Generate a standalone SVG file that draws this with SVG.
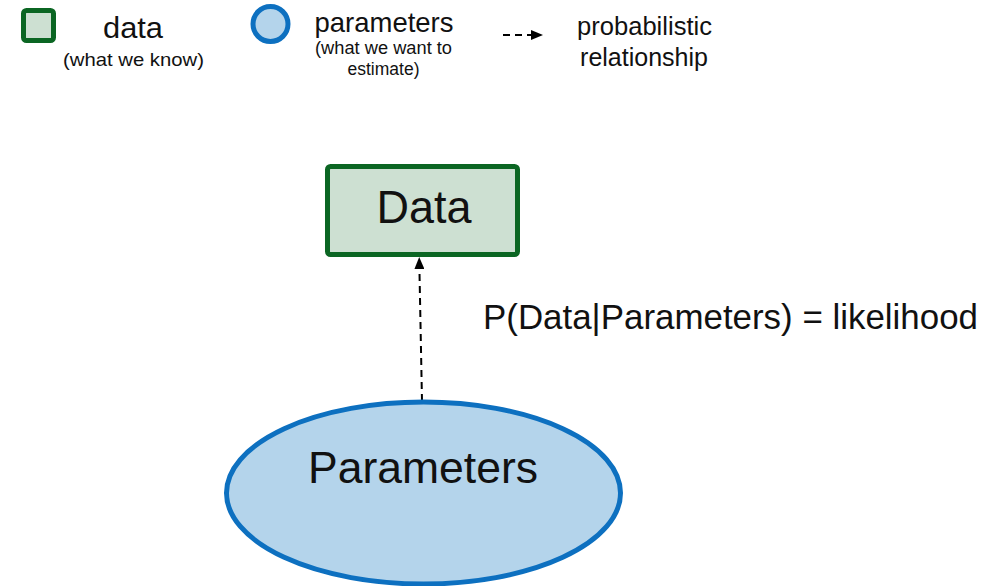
<svg xmlns="http://www.w3.org/2000/svg" width="1001" height="586" viewBox="0 0 1001 586">
  <defs>
    <style>
      .txt { font-family: "Liberation Sans", Arial, sans-serif; fill: #111; }
      .data { fill: #cde0d2; stroke: #0b6623; stroke-width: 5; }
      .param { fill: #b4d4eb; stroke: #0d70c0; stroke-width: 5; }
      .dash { stroke: #000; stroke-width: 2; stroke-dasharray: 7 5; fill: none; }
    </style>
    <marker id="arrowhead-main" viewBox="0 0 12 10" refX="12" refY="5" markerWidth="12" markerHeight="10" markerUnits="userSpaceOnUse" orient="auto">
      <path d="M0,0 L12,5 L0,10 Z" fill="#000"/>
    </marker>
  </defs>
  <rect width="1001" height="586" fill="#fff"/>

  <!-- legend -->
  <g id="legend">
    <g id="legend-data">
      <rect class="data" x="23.5" y="10.5" width="30" height="30" rx="3"/>
      <text class="txt" x="133" y="38" font-size="29" text-anchor="middle" textLength="60" lengthAdjust="spacingAndGlyphs">data</text>
      <text class="txt" x="133.5" y="66" font-size="19" text-anchor="middle" textLength="141" lengthAdjust="spacingAndGlyphs">(what we know)</text>
    </g>
    <g id="legend-parameters">
      <circle class="param" cx="270.5" cy="24" r="17.5" stroke-width="4.5"/>
      <text class="txt" x="384" y="32" font-size="28" text-anchor="middle" textLength="139" lengthAdjust="spacingAndGlyphs">parameters</text>
      <text class="txt" x="383.5" y="54" font-size="17.5" text-anchor="middle" textLength="137" lengthAdjust="spacingAndGlyphs">(what we want to</text>
      <text class="txt" x="383.5" y="75" font-size="17.5" text-anchor="middle">estimate)</text>
    </g>
    <g id="legend-relationship">
      <line class="dash" x1="503" y1="35" x2="533" y2="35" stroke-dasharray="8 5"/>
      <path d="M531,30 L543,35 L531,40 Z" fill="#000"/>
      <text class="txt" x="644.5" y="35" font-size="25" text-anchor="middle" textLength="135" lengthAdjust="spacingAndGlyphs">probabilistic</text>
      <text class="txt" x="644" y="66" font-size="25" text-anchor="middle">relationship</text>
    </g>
  </g>

  <!-- connectors -->
  <g id="connectors">
    <line class="dash" x1="422" y1="401" x2="419.2" y2="257" marker-end="url(#arrowhead-main)"/>
    <text class="txt" x="483" y="329" font-size="35" textLength="495" lengthAdjust="spacingAndGlyphs">P(Data|Parameters) = likelihood</text>
  </g>

  <!-- nodes -->
  <g id="node-data">
    <rect class="data" x="327.5" y="166.5" width="190" height="88" rx="3"/>
    <text class="txt" x="424" y="223" font-size="46" text-anchor="middle" textLength="95" lengthAdjust="spacingAndGlyphs">Data</text>
  </g>
  <g id="node-parameters">
    <ellipse class="param" cx="423.5" cy="493" rx="197" ry="91"/>
    <text class="txt" x="423" y="483" font-size="44" text-anchor="middle" textLength="230" lengthAdjust="spacingAndGlyphs">Parameters</text>
  </g>
</svg>
